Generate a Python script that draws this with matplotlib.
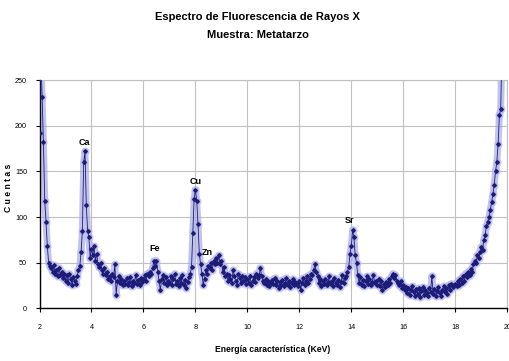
import numpy as np
import matplotlib
matplotlib.use("Agg")
import matplotlib.pyplot as plt

plt.rcParams['font.family'] = ['Liberation Sans', 'DejaVu Sans']

# Energy axis (keV), 0.05 keV steps from 2.00 to 19.80
energy = np.round(np.arange(2.0, 19.801, 0.05), 2)

counts_2 = [192, 280, 232, 182, 118, 95, 68, 50, 46, 44, 40, 47, 38, 42, 35, 44, 36, 40, 33, 38]
counts_3 = [30, 36, 28, 38, 32, 26, 34, 30, 27, 35, 42, 46, 62, 85, 160, 172, 113, 85, 78, 55]
counts_4 = [65, 58, 68, 52, 60, 48, 45, 50, 42, 38, 44, 36, 40, 32, 35, 30, 38, 34, 48, 15]
counts_5 = [30, 35, 28, 32, 25, 30, 27, 33, 26, 29, 34, 24, 30, 28, 36, 27, 31, 25, 33, 29]
counts_6 = [32, 36, 30, 38, 35, 40, 38, 44, 52, 46, 52, 40, 30, 20, 32, 36, 28, 34, 26, 30]
counts_7 = [28, 35, 26, 32, 38, 27, 30, 24, 33, 28, 36, 25, 31, 22, 29, 34, 38, 45, 82, 120]
counts_8 = [130, 118, 92, 60, 48, 38, 26, 32, 42, 38, 46, 44, 50, 42, 52, 48, 55, 50, 58, 48]
counts_9 = [52, 40, 45, 35, 38, 30, 36, 32, 28, 42, 35, 30, 26, 38, 33, 28, 35, 30, 34, 27]
counts_10 = [32, 28, 35, 26, 30, 34, 29, 38, 33, 36, 44, 35, 30, 28, 32, 26, 30, 24, 28, 31]
counts_11 = [27, 33, 25, 30, 22, 29, 26, 31, 24, 28, 33, 26, 30, 23, 28, 32, 25, 29, 27, 24]
counts_12 = [30, 20, 28, 33, 25, 30, 35, 28, 32, 38, 36, 42, 48, 40, 35, 28, 32, 24, 30, 27]
counts_13 = [32, 25, 29, 35, 27, 30, 24, 33, 28, 26, 31, 23, 29, 36, 28, 33, 35, 40, 45, 60]
counts_14 = [68, 86, 78, 58, 50, 36, 28, 34, 26, 31, 24, 30, 35, 27, 32, 25, 29, 36, 28, 30]
counts_15 = [26, 32, 24, 30, 20, 27, 23, 29, 25, 32, 28, 35, 38, 33, 36, 30, 28, 25, 30, 22]
counts_16 = [25, 20, 23, 17, 22, 15, 20, 24, 18, 13, 21, 16, 22, 12, 19, 23, 15, 20, 17, 14]
counts_17 = [22, 18, 35, 16, 21, 13, 19, 23, 17, 14, 20, 24, 18, 22, 16, 25, 20, 27, 23, 26]
counts_18 = [27, 24, 30, 26, 32, 28, 35, 30, 38, 34, 40, 37, 43, 40, 48, 52, 50, 58, 55, 62]
counts_19 = [67, 64, 75, 80, 90, 95, 100, 108, 116, 125, 135, 150, 160, 180, 212, 218, 290]

counts = np.array(counts_2 + counts_3 + counts_4 + counts_5 + counts_6 + counts_7 +
                  counts_8 + counts_9 + counts_10 + counts_11 + counts_12 + counts_13 +
                  counts_14 + counts_15 + counts_16 + counts_17 + counts_18 + counts_19)

peak_labels = ["Ca", "Fe", "Cu", "Zn", "Sr"]
peak_x = [3.72, 6.42, 8.02, 8.47, 13.94]
peak_y = [182, 66, 139, 61, 96]

x_ticks = [2, 4, 6, 8, 10, 12, 14, 16, 18, 20]
y_ticks = [0, 50, 100, 150, 200, 250]

fig = plt.figure(figsize=(5.10, 3.61), dpi=100)
ax = fig.add_axes([0.0775, 0.146, 0.917, 0.632])

ax.plot(energy, counts, color='#a9ace6', lw=5, alpha=0.7, solid_capstyle='round', zorder=2)
ax.plot(energy, counts, color='#b9bcec', lw=0, marker='o', ms=5, alpha=0.6, zorder=2)
ax.plot(energy, counts, color='#1c1c78', lw=0.6, marker='D', ms=1.9, zorder=3)

for lab, px, py in zip(peak_labels, peak_x, peak_y):
    ax.text(px, py, lab, ha='center', va='center', fontsize=6.5, fontweight='bold', zorder=4)

ax.set_xlim(2, 20)
ax.set_ylim(0, 250)
ax.set_xticks(x_ticks)
ax.set_yticks(y_ticks)
ax.tick_params(axis='both', labelsize=5.2, length=3, width=0.8, direction='out')
ax.tick_params(axis='y', pad=6)
ax.tick_params(axis='x', pad=8)
ax.grid(True, color='#c0c0c0', lw=0.8, zorder=0)
ax.set_axisbelow(True)
for s in ['top', 'right']:
    ax.spines[s].set_color('#c0c0c0')
    ax.spines[s].set_linewidth(0.8)
for s in ['left', 'bottom']:
    ax.spines[s].set_color('black')
    ax.spines[s].set_linewidth(1.0)

fig.text(0.505, 1 - 17 / 361, 'Espectro de Fluorescencia de Rayos X', ha='center', va='center',
         fontsize=8, fontweight='bold')
fig.text(0.505, 1 - 35 / 361, 'Muestra: Metatarzo', ha='center', va='center',
         fontsize=8, fontweight='bold')
fig.text(0.535, 1 - 349 / 361, 'Energía característica (KeV)', ha='center', va='center',
         fontsize=6.2, fontweight='bold')
fig.text(9 / 510, 1 - 188 / 361, 'C u e n t a s', ha='center', va='center', rotation=90,
         fontsize=6.2, fontweight='bold')

fig.savefig('out.png', dpi=100)
